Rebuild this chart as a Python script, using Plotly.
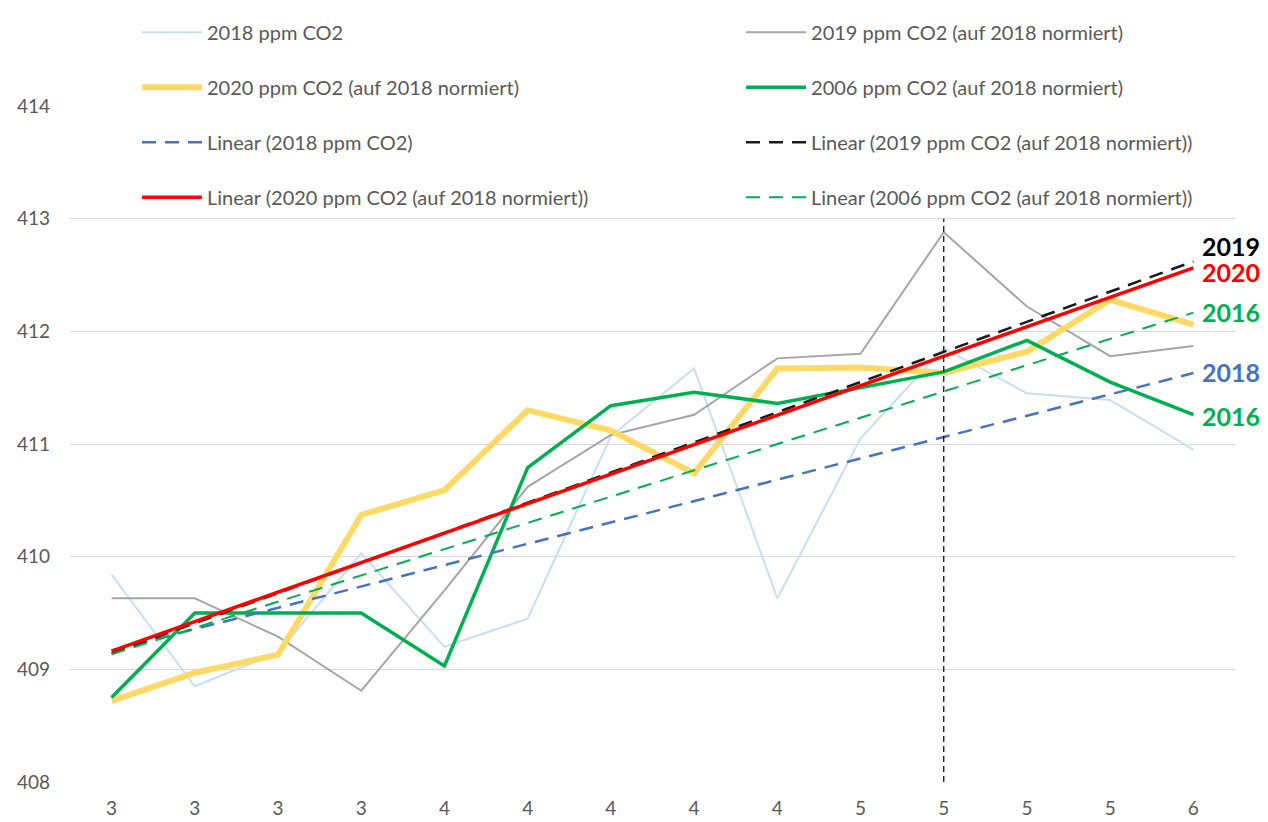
import numpy as np
import plotly.graph_objects as go

x_labels = ["3", "3", "3", "3", "4", "4", "4", "4", "4", "5", "5", "5", "5", "6"]
x_idx = list(range(len(x_labels)))

ppm_2018 = [409.84, 408.85, 409.15, 410.03, 409.20, 409.45, 411.07, 411.67, 409.63, 411.05, 411.85, 411.45, 411.39, 410.95]
ppm_2019 = [409.63, 409.63, 409.29, 408.81, 409.70, 410.62, 411.08, 411.26, 411.76, 411.80, 412.88, 412.22, 411.78, 411.87]
ppm_2020 = [408.72, 408.97, 409.13, 410.37, 410.59, 411.30, 411.12, 410.74, 411.67, 411.68, 411.63, 411.82, 412.28, 412.06]
ppm_2006 = [408.75, 409.50, 409.50, 409.50, 409.03, 410.79, 411.34, 411.46, 411.36, 411.50, 411.64, 411.92, 411.55, 411.26]

marker_x = 10
marker_y = [408, 413]


def linear(vals):
    k, d = np.polyfit(x_idx, vals, 1)
    return [k * i + d for i in x_idx]


FONT = "Lato, 'Open Sans', sans-serif"
GREY_TXT = "#595959"

fig = go.Figure()

# two legend columns, one legendgroup per trace so tracegroupgap sets the row spacing
series = [
    ("2018 ppm CO2", ppm_2018, dict(color="#C9DEF2", width=2), "legend"),
    ("2019 ppm CO2 (auf 2018 normiert)", ppm_2019, dict(color="#A6A6A6", width=2), "legend2"),
    ("2020 ppm CO2 (auf 2018 normiert)", ppm_2020, dict(color="#FFD966", width=6), "legend"),
    ("2006 ppm CO2 (auf 2018 normiert)", ppm_2006, dict(color="#00B050", width=3.5), "legend2"),
]
for name, vals, line, lg in series:
    fig.add_trace(go.Scatter(x=x_idx, y=vals, mode="lines", name=name, line=line,
                             legend=lg, legendgroup=name))

trends = [
    ("Linear (2018 ppm CO2)", ppm_2018, dict(color="#4472C4", width=2.5, dash="14px,9px"), "legend"),
    ("Linear (2019 ppm CO2 (auf 2018 normiert))", ppm_2019, dict(color="#1A1A1A", width=2.5, dash="14px,9px"), "legend2"),
    ("Linear (2020 ppm CO2 (auf 2018 normiert))", ppm_2020, dict(color="#FF0000", width=3.5), "legend"),
    ("Linear (2006 ppm CO2 (auf 2018 normiert))", ppm_2006, dict(color="#00B050", width=2, dash="14px,9px"), "legend2"),
]
for name, vals, line, lg in trends:
    fig.add_trace(go.Scatter(x=x_idx, y=linear(vals), mode="lines", name=name, line=line,
                             legend=lg, legendgroup=name))

fig.add_trace(go.Scatter(x=[marker_x, marker_x], y=marker_y, mode="lines", showlegend=False,
                         line=dict(color="#000000", width=1.2, dash="6px,4px")))

# year labels at the right end
end_labels = [
    ("2019", linear(ppm_2019)[-1], "#000000", 16),
    ("2020", linear(ppm_2020)[-1], "#FF0000", -4),
    ("2016", linear(ppm_2006)[-1], "#00B050", 1),
    ("2018", linear(ppm_2018)[-1], "#4472C4", 1),
    ("2016", ppm_2006[-1], "#00B050", -1),
]
for txt, yv, col, ys in end_labels:
    fig.add_annotation(x=13, y=yv, text="<b>%s</b>" % txt, showarrow=False, xanchor="left",
                       xshift=7, yshift=ys, font=dict(family=FONT, size=25, color=col))

leg_common = dict(orientation="v", xanchor="left", yanchor="top", bgcolor="rgba(0,0,0,0)",
                  font=dict(family=FONT, size=20, color=GREY_TXT), itemwidth=60,
                  tracegroupgap=26, traceorder="grouped")

fig.update_layout(
    width=1260, height=814,
    margin=dict(l=62, r=33, t=98, b=40, autoexpand=False),
    plot_bgcolor="white", paper_bgcolor="white",
    font=dict(family=FONT, size=20, color=GREY_TXT),
    legend=dict(x=0.0575, y=1.138, **leg_common),
    legend2=dict(x=0.576, y=1.138, **leg_common),
    xaxis=dict(range=[-0.5, 13.5], tickvals=x_idx, ticktext=x_labels, showgrid=False,
               zeroline=False, showline=False, ticklabelstandoff=13,
               tickfont=dict(family=FONT, size=19, color=GREY_TXT)),
    yaxis=dict(range=[408, 414], dtick=1, showgrid=True, gridcolor="#D9D9D9", gridwidth=1.3,
               zeroline=False, showline=False, ticklabelstandoff=19,
               tickfont=dict(family=FONT, size=19, color=GREY_TXT)),
)

fig.write_html("out.html")
